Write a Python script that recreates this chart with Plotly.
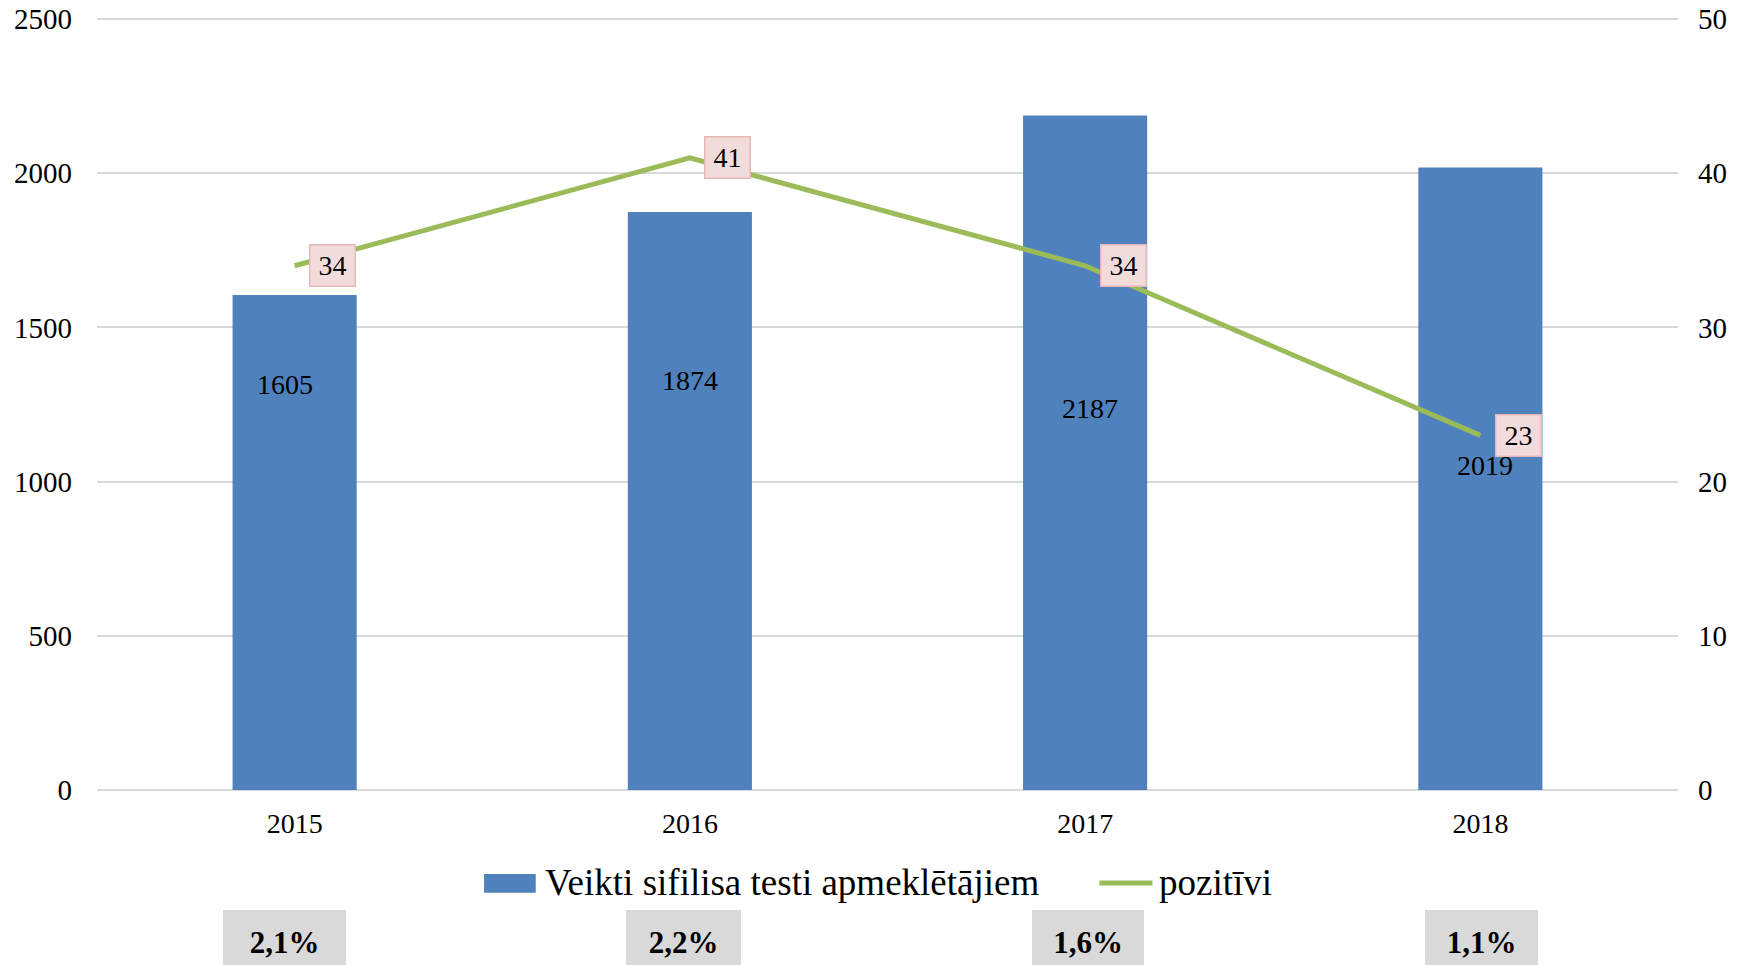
import plotly.graph_objects as go

# ---- data ----
years = ["2015", "2016", "2017", "2018"]
tests = [1605, 1874, 2187, 2019]
positive = [34, 41, 34, 23]
pct_labels = ["2,1%", "2,2%", "1,6%", "1,1%"]
bar_name = "Veikti sifilisa testi apmeklētājiem"
line_name = "pozitīvi"

# label placement (data units on primary axis) and pixel nudges
bar_label_y = [1314, 1329, 1236, 1053]
bar_label_dx = [-10, 0, 5, 5]
pct_box_x = [0.1185, 0.3707, 0.6268, 0.8760]
pct_box_w = [123, 115, 112, 113]

FONT = "Liberation Serif, Times New Roman, serif"
BAR_COLOR = "#4F81BD"
LINE_COLOR = "#9BBB59"
GRID = "#D9D9D9"

fig = go.Figure()
fig.add_trace(go.Bar(x=years, y=tests, name=bar_name, marker=dict(color=BAR_COLOR, line=dict(width=0)),
                     showlegend=False, hoverinfo="skip"))
fig.add_trace(go.Scatter(x=years, y=positive, name=line_name, yaxis="y2", mode="lines",
                         line=dict(color=LINE_COLOR, width=5), showlegend=False, hoverinfo="skip"))

annotations = []
# bar value labels (x given as category index)
for i, (v, ly, dx) in enumerate(zip(tests, bar_label_y, bar_label_dx)):
    annotations.append(dict(x=i, y=ly, xref="x", yref="y", text=str(v), showarrow=False,
                            xshift=dx, font=dict(family=FONT, size=28, color="black")))
# line value labels (boxed)
for i, v in enumerate(positive):
    annotations.append(dict(x=i, y=v, xref="x", yref="y2", text=str(v), showarrow=False,
                            xshift=38, font=dict(family=FONT, size=28, color="black"),
                            bgcolor="#F2DCDB", bordercolor="#E6B9B8", borderwidth=1.5,
                            borderpad=1, width=42, height=38))
# percentage boxes below
for t, px, w in zip(pct_labels, pct_box_x, pct_box_w):
    annotations.append(dict(x=px, y=-0.1964, xref="paper", yref="paper", text="<b>" + t + "</b>",
                            showarrow=False, xanchor="center", yanchor="middle",
                            font=dict(family=FONT, size=31, color="black"),
                            bgcolor="#D9D9D9", borderpad=0, borderwidth=0, width=w, height=64))
# custom legend text
annotations.append(dict(x=0.2821, y=-0.1189, xref="paper", yref="paper", text=bar_name, showarrow=False,
                        xanchor="left", yanchor="middle", font=dict(family=FONT, size=37, color="black")))
annotations.append(dict(x=0.6705, y=-0.1189, xref="paper", yref="paper", text=line_name, showarrow=False,
                        xanchor="left", yanchor="middle", font=dict(family=FONT, size=37, color="black")))

shapes = [
    dict(type="rect", xref="paper", yref="paper", x0=0.2448, x1=0.2775, y0=-0.1327, y1=-0.1085,
         fillcolor=BAR_COLOR, line=dict(width=0)),
    dict(type="line", xref="paper", yref="paper", x0=0.6340, x1=0.6676, y0=-0.1202, y1=-0.1202,
         line=dict(color=LINE_COLOR, width=5)),
]

fig.update_layout(
    width=1736, height=957,
    margin=dict(l=89, r=66, t=8, b=175, autoexpand=False),
    paper_bgcolor="white", plot_bgcolor="white",
    bargap=0.686,
    showlegend=False,
    font=dict(family=FONT, size=28, color="black"),
    xaxis=dict(type="category", range=[-0.5, 3.5], autorange=False, showgrid=False, showline=False,
               zeroline=False, ticks="", automargin=False,
               tickfont=dict(family=FONT, size=28, color="black"), ticklabelstandoff=14),
    yaxis=dict(range=[0, 2510], autorange=False, tickvals=[0, 500, 1000, 1500, 2000, 2500],
               showgrid=True, gridcolor=GRID, gridwidth=1.5, automargin=False,
               zeroline=True, zerolinecolor=GRID, zerolinewidth=1.5, showline=False, ticks="",
               ticklabeloverflow="allow",
               tickfont=dict(family=FONT, size=29, color="black"), ticklabelstandoff=24),
    yaxis2=dict(range=[0, 50.2], autorange=False, tickvals=[0, 10, 20, 30, 40, 50],
                overlaying="y", side="right", showgrid=False, automargin=False,
                zeroline=False, showline=False, ticks="", ticklabeloverflow="allow",
                tickfont=dict(family=FONT, size=29, color="black"), ticklabelstandoff=19),
    annotations=annotations,
    shapes=shapes,
)

fig.write_html("out.html")
